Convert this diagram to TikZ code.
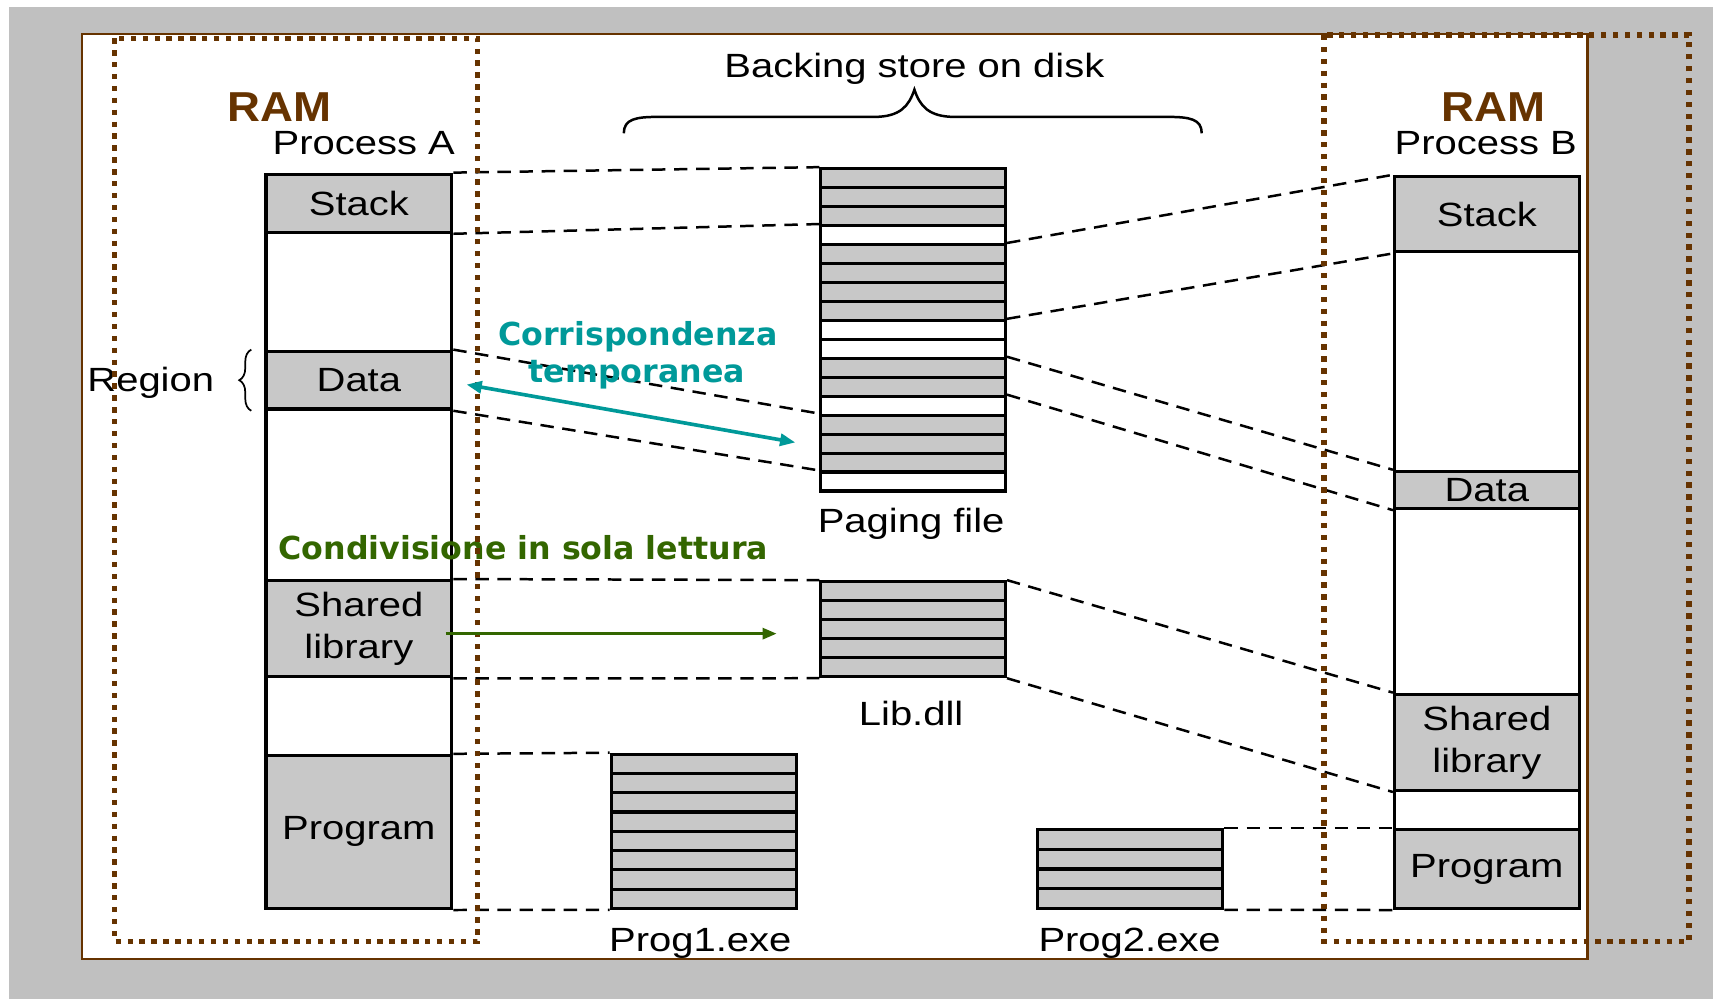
\documentclass[tikz,border=0pt]{standalone}
\usepackage{fontspec}
\setmainfont{Liberation Sans}
\newfontfamily\labfam{Liberation Sans}[FakeStretch=1.19]
\newfontfamily\ramfam{Liberation Sans}[FakeStretch=1.09]
\newfontfamily\annotfamily{DejaVu Sans}
\usetikzlibrary{arrows.meta,decorations.pathreplacing}
\definecolor{bggrey}{RGB}{192,192,192}
\definecolor{boxgrey}{RGB}{200,200,200}
\definecolor{ramBrown}{RGB}{102,51,0}
\definecolor{tealc}{RGB}{0,153,153}
\definecolor{greenc}{RGB}{51,102,0}
\newcommand\labfont{\labfam\fontsize{17.5}{21.9}\selectfont}
\newcommand\ramfont{\ramfam\bfseries\fontsize{21.8}{26}\selectfont}
\newcommand\annfont{\annotfamily\bfseries\fontsize{16.5}{20}\selectfont}
\begin{document}
\begin{tikzpicture}[x=0.02cm,y=-0.02cm,
  seg/.style={draw, line width=1.7pt, inner sep=0pt, anchor=north west, minimum width=3.4cm, font=\labfont, align=center},
  bseg/.style={seg, minimum width=3.38cm},
  row/.style={draw, line width=1.6pt, fill=boxgrey, inner sep=0pt, anchor=north west, minimum width=3.38cm},
  link/.style={line width=1.3pt, dash pattern=on 7pt off 4.5pt},
  dotbox/.style={draw=ramBrown, line width=2.8pt, dash pattern=on 2.8pt off 3.4pt},
  lbl/.style={font=\labfont, anchor=base, inner sep=0pt},
  ramlbl/.style={font=\ramfont, text=ramBrown, anchor=base, inner sep=0pt},
  annot/.style={font=\annfont, anchor=base, inner sep=0pt},
]
\useasboundingbox (0,0) rectangle (1568,914);
\fill[white] (0,0) rectangle (1568,914);
\fill[bggrey] (8,6) rectangle (1568,914);
\draw[ramBrown, line width=1.2pt, fill=white] (75,31) rectangle (1453,878);

% Process A
\node[seg, fill=boxgrey, minimum height=1.06cm] (aStack) at (242,158) {Stack};
\node[seg, fill=white, minimum height=2.18cm] (aGap1) at (242,211) {};
\node[seg, fill=boxgrey, minimum height=1.06cm] (aData) at (242,320) {Data};
\node[seg, fill=white, minimum height=3.14cm] (aGap2) at (242,373) {};
\node[seg, fill=boxgrey, minimum height=1.76cm] (aLib) at (242,530) {Shared\\library};
\node[seg, fill=white, minimum height=1.44cm] (aGap3) at (242,618) {};
\node[seg, fill=boxgrey, minimum height=2.8cm] (aProg) at (242,690) {Program};

% Process B
\node[bseg, fill=boxgrey, minimum height=1.38cm] (bStack) at (1275,160) {Stack};
\node[bseg, fill=white, minimum height=4.02cm] (bGap1) at (1275,229) {};
\node[bseg, fill=boxgrey, minimum height=0.68cm] (bData) at (1275,430) {Data};
\node[bseg, fill=white, minimum height=3.4cm] (bGap2) at (1275,464) {};
\node[bseg, fill=boxgrey, minimum height=1.76cm] (bLib) at (1275,634) {Shared\\library};
\node[bseg, fill=white, minimum height=0.72cm] (bGap3) at (1275,722) {};
\node[bseg, fill=boxgrey, minimum height=1.44cm] (bProg) at (1275,758) {Program};

% Paging file
\foreach \i/\c in {0/boxgrey,1/boxgrey,2/boxgrey,3/white,4/boxgrey,5/boxgrey,6/boxgrey,7/boxgrey,8/white,9/white,10/boxgrey,11/boxgrey,12/white,13/boxgrey,14/boxgrey,15/boxgrey,16/white}
  \node[row, fill=\c, minimum height=0.34706cm] (pf\i) at (750,{153+\i*17.353}) {};
% Lib.dll
\foreach \i in {0,...,4}
  \node[row, minimum height=0.348cm] (lib\i) at (750,{531+\i*17.4}) {};
% Prog1.exe
\foreach \i in {0,...,7}
  \node[row, minimum width=3.4cm, minimum height=0.3525cm] (pa\i) at (558,{689+\i*17.625}) {};
% Prog2.exe
\foreach \i in {0,...,3}
  \node[row, minimum width=3.4cm, minimum height=0.36cm] (pb\i) at (948,{758+\i*18}) {};

% dashed mappings
\draw[link] (aStack.north east) -- (pf0.north west);
\draw[link] (aStack.south east) -- (pf3.north west);
\draw[link] (aData.north east) -- (pf13.north west);
\draw[link] (aData.south east) -- (pf16.north west);
\draw[link] (pf4.north east) -- (bStack.north west);
\draw[link] (pf8.north east) -- (bStack.south west);
\draw[link] (pf10.north east) -- (bData.north west);
\draw[link] (pf12.north east) -- (bData.south west);
\draw[link] (aLib.north east) -- (lib0.north west);
\draw[link] (aLib.south east) -- (lib4.south west);
\draw[link] (lib0.north east) -- (bLib.north west);
\draw[link] (lib4.south east) -- (bLib.south west);
\draw[link] (aProg.north east) -- (pa0.north west);
\draw[link] (aProg.south east) -- (pa7.south west);
\draw[link] (pb0.north east) -- (bProg.north west);
\draw[link] (pb3.south east) -- (bProg.south west);

% labels
\node[ramlbl] (ramA) at (256,111) {RAM};
\node[lbl] (procA) at (333,141) {Process A};
\node[ramlbl] (ramB) at (1367,111) {RAM};
\node[lbl] (procB) at (1360,141) {Process B};
\node[lbl] (backing) at (837,71) {Backing store on disk};
\node[lbl] (region) at (138,358) {Region};
\node[lbl] (pagingLbl) at (834,487) {Paging file};
\node[lbl] (libLbl) at (834,664) {Lib.dll};
\node[lbl] (prog1Lbl) at (641,871) {Prog1.exe};
\node[lbl] (prog2Lbl) at (1034,871) {Prog2.exe};

% braces
\draw[line width=1.3pt] (571,122) .. controls (571,109) and (582,107) .. (602,107) -- (800,107)
  .. controls (824,107) and (832,97) .. (837,82) .. controls (842,97) and (850,107) .. (874,107)
  -- (1069,107) .. controls (1089,107) and (1100,109) .. (1100,122);
\draw[line width=0.9pt, decorate, decoration={brace, amplitude=0.22cm}]
  ([xshift=-0.24cm]aData.south west) -- ([xshift=-0.24cm]aData.north west);

% annotations
\node[annot, text=tealc] (corr) at (584,316) {Corrispondenza};
\node[annot, text=tealc] (temp) at (583,350) {temporanea};
\node[annot, text=greenc] (cond) at (479,512) {Condivisione in sola lettura};

% dotted RAM frames
\draw[dotbox] (105,35) rectangle (437,862);
\draw[dotbox] (1212,32) rectangle (1546,862);

% arrows
\coordinate (tA) at (427,352);
\coordinate (tB) at (728,405);
\draw[tealc, line width=1.9pt, {Triangle[length=0.28cm,width=0.22cm]}-{Triangle[length=0.28cm,width=0.22cm]}] (tA) -- (tB);
\coordinate (gA) at (408,580);
\coordinate (gB) at (711,580);
\draw[greenc, line width=1.7pt, -{Triangle[length=0.26cm,width=0.2cm]}] (gA) -- (gB);
\end{tikzpicture}
\end{document}
